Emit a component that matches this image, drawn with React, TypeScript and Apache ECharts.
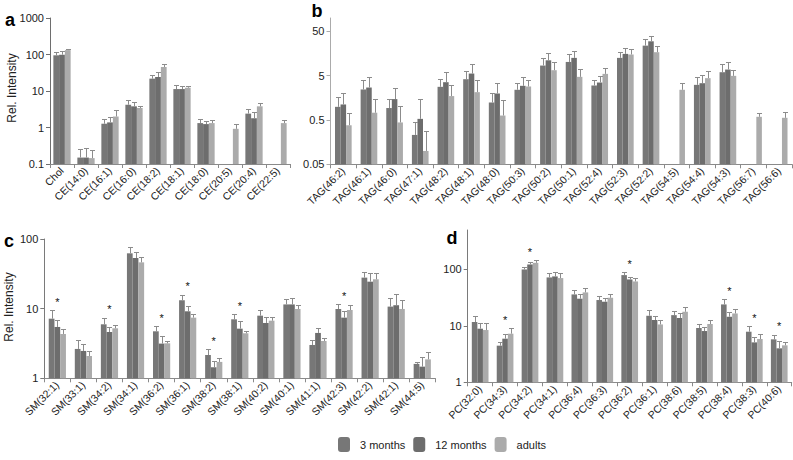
import React, { useEffect, useRef } from "react";
import * as echarts from "echarts";

const seriesNames = ["3 months", "12 months", "adults"];
const barColors = ["#777777", "#6d6d6d", "#ababab"];

// Panel a
const catA = ["Chol", "CE(14:0)", "CE(16:1)", "CE(16:0)", "CE(18:2)", "CE(18:1)", "CE(18:0)", "CE(20:5)", "CE(20:4)", "CE(22:5)"];
const a3m = [95, 0.15, 1.27, 4.2, 21.8, 11.3, 1.32, null, 2.4, null];
const a12m = [99, 0.15, 1.38, 3.8, 24.2, 11.3, 1.24, null, 1.78, null];
const aAd = [132, 0.145, 2.0, 3.42, 45.5, 12.3, 1.32, 0.92, 3.8, 1.32];
const a3mHi = [117, 0.26, 1.74, 5.8, 28.0, 14.9, 1.71, null, 3.2, null];
const a12mHi = [123, 0.275, 1.94, 4.98, 33.2, 13.9, 1.54, null, 2.6, null];
const aAdHi = [141, 0.24, 3.08, 3.9, 56.1, 13.9, 1.57, 1.27, 4.7, 1.57];

// Panel b
const catB = ["TAG(46:2)", "TAG(46:1)", "TAG(46:0)", "TAG(47:1)", "TAG(48:2)", "TAG(48:1)", "TAG(48:0)", "TAG(50:3)", "TAG(50:2)", "TAG(50:1)", "TAG(52:4)", "TAG(52:3)", "TAG(52:2)", "TAG(54:5)", "TAG(54:4)", "TAG(54:3)", "TAG(56:7)", "TAG(56:6)"];
const b3m = [0.99, 2.44, 0.93, 0.23, 2.8, 4.16, 1.24, 2.4, 8.45, 10.2, 3.0, 12.6, 23.8, null, 3.1, 5.98, null, null];
const b12m = [1.12, 2.7, 1.48, 0.53, 3.56, 5.58, 1.98, 2.95, 11.1, 12.6, 3.5, 15.5, 29.8, null, 3.38, 6.87, null, null];
const bAd = [0.38, 0.73, 0.44, 0.1, 1.73, 2.12, 0.63, 2.85, 6.64, 4.7, 5.49, 15.0, 16.9, 2.4, 4.39, 4.95, 0.59, 0.56];
const b3mHi = [1.61, 4.09, 1.5, 0.46, 4.31, 6.5, 1.98, 3.33, 12.2, 15.2, 4.09, 17.2, 33.7, null, 4.62, 9.06, null, null];
const b12mHi = [1.98, 4.78, 2.61, 1.45, 6.09, 9.06, 3.33, 4.7, 16.6, 18.1, 5.03, 21.5, 40, null, 5.12, 10.05, null, null];
const bAdHi = [0.73, 1.45, 1.01, 0.28, 3.1, 4.09, 1.38, 3.95, 10.2, 7.24, 7.62, 20.4, 23.0, 3.33, 6.3, 6.87, 0.73, 0.74];

// Panel c
const catC = ["SM(32:1)", "SM(33:1)", "SM(34:2)", "SM(34:1)", "SM(36:2)", "SM(36:1)", "SM(38:2)", "SM(38:1)", "SM(40:2)", "SM(40:1)", "SM(41:1)", "SM(42:3)", "SM(42:2)", "SM(42:1)", "SM(44:5)"];
const c3m = [7.18, 2.64, 5.96, 62.3, 4.73, 13.2, 2.16, 7.03, 7.93, 11.5, 3.01, 9.89, 27.9, 10.7, 1.61];
const c12m = [5.46, 2.47, 4.62, 53.4, 3.15, 9.16, 1.44, 5.16, 6.23, 11.5, 4.48, 7.43, 24.4, 11.2, 1.47];
const cAd = [4.33, 2.09, 5.22, 46.2, 3.18, 7.43, 1.72, 4.43, 6.72, 9.89, 3.43, 9.57, 26.4, 9.9, 1.87];
const c3mHi = [9.46, 3.51, 7.26, 76.8, 5.64, 15.7, 2.64, 8.29, 9.46, 13.6, 3.55, 11.5, 33.2, 14.1, 1.72];
const c12mHi = [6.88, 3.08, 5.52, 65.1, 4.01, 10.9, 1.75, 6.58, 7.51, 14.2, 5.22, 9.26, 32.2, 16.0, 2.05];
const cAdHi = [5.11, 2.44, 5.76, 54.6, 3.43, 8.29, 1.96, 4.78, 7.51, 11.3, 3.75, 11.3, 32.2, 13.3, 2.36];
const cStars = [13.8, null, 10.8, null, 8.1, 23.1, 3.79, 12.2, null, null, null, 17.0, null, null, null];

// Panel d
const catD = ["PC(32:0)", "PC(34:3)", "PC(34:2)", "PC(34:1)", "PC(36:4)", "PC(36:3)", "PC(36:2)", "PC(36:1)", "PC(38:6)", "PC(38:5)", "PC(38:4)", "PC(38:3)", "PC(40:6)"];
const d3m = [11.7, 4.46, 100, 72.2, 36.1, 28.7, 79.4, 15.1, 15.5, 9.16, 24.0, 7.88, 5.77];
const d12m = [8.91, 5.93, 122.5, 75.2, 30.3, 26.8, 66.5, 12.7, 13.8, 8.1, 14.5, 5.1, 4.0];
const dAd = [8.44, 7.27, 131, 70.3, 39.2, 31.5, 61.3, 10.6, 17.8, 10.8, 16.6, 5.85, 4.52];
const d3mHi = [14.9, 5.24, 111.5, 86.1, 42.5, 33.3, 88.5, 18.8, 18.6, 10.9, 29.5, 9.93, 6.98];
const d12mHi = [11.1, 7.17, 137, 88.5, 36.1, 30.7, 72.2, 15.1, 16.6, 9.41, 17.3, 6.26, 5.32];
const dAdHi = [11.4, 9.16, 146, 85.0, 46.1, 36.1, 69.3, 12.5, 21.5, 12.7, 19.6, 7.07, 5.1];
const dStars = [null, 14.1, 229, null, null, null, 140, null, null, null, 46.7, 15.8, 11.2];

const FONT = "'Liberation Sans', Arial, Helvetica, sans-serif";

type Panel = {
  cats: string[];
  means: (number | null)[][];
  his: (number | null)[][];
  stars: (number | null)[] | null;
  minV: number;
  maxV: number;
  tickVals: number[];
  grid: { left: number; top: number; width: number; height: number };
  gap: number;
  yLineColor: string;
};

const panels: Panel[] = [
  { cats: catA, means: [a3m, a12m, aAd], his: [a3mHi, a12mHi, aAdHi], stars: null, minV: 0.1, maxV: 1000, tickVals: [0.1, 1, 10, 100, 1000], grid: { left: 50, top: 18, width: 240, height: 146 }, gap: 0.28, yLineColor: "#6e6e6e" },
  { cats: catB, means: [b3m, b12m, bAd], his: [b3mHi, b12mHi, bAdHi], stars: null, minV: 0.05, maxV: 100, tickVals: [0.05, 0.5, 5, 50], grid: { left: 330.5, top: 18, width: 461.5, height: 146.3 }, gap: 0.35, yLineColor: "#ababab" },
  { cats: catC, means: [c3m, c12m, cAd], his: [c3mHi, c12mHi, cAdHi], stars: cStars, minV: 1, maxV: 100, tickVals: [1, 10, 100], grid: { left: 44.3, top: 239, width: 391, height: 139.3 }, gap: 0.34, yLineColor: "#7a7a7a" },
  { cats: catD, means: [d3m, d12m, dAd], his: [d3mHi, d12mHi, dAdHi], stars: dStars, minV: 1, maxV: 500, tickVals: [1, 10, 100], grid: { left: 467.7, top: 230, width: 324, height: 152.3 }, gap: 0.33, yLineColor: "#7a7a7a" },
];

function buildOption() {
  const grids: any[] = [];
  const xAxes: any[] = [];
  const yAxes: any[] = [];
  const series: any[] = [];

  panels.forEach((p, pi) => {
    const lmin = Math.log10(p.minV);
    const L = (v: number | null) => (v == null ? null : Math.log10(v) - lmin);
    grids.push({ ...p.grid, containLabel: false });
    xAxes.push({
      type: "category",
      gridIndex: pi,
      data: p.cats,
      axisLine: { show: true, lineStyle: { color: "#8a8a8a", width: 1 } },
      axisTick: { show: true, length: 4, lineStyle: { color: "#8a8a8a" } },
      axisLabel: { interval: 0, rotate: 45, fontSize: 10.5, color: "#222", margin: 5, fontFamily: FONT },
      splitLine: { show: false },
    });
    const tickPos = p.tickVals.map((v) => Math.log10(v) - lmin);
    yAxes.push({
      type: "value",
      gridIndex: pi,
      min: 0,
      max: Math.log10(p.maxV) - lmin,
      axisLine: { show: true, lineStyle: { color: p.yLineColor, width: 1 } },
      axisTick: { show: true, length: 4, customValues: tickPos, lineStyle: { color: p.yLineColor } },
      axisLabel: {
        customValues: tickPos,
        fontSize: 11,
        color: "#222",
        margin: 6,
        fontFamily: FONT,
        formatter: (v: number) => String(parseFloat(Math.pow(10, v + lmin).toPrecision(3))),
      },
      splitLine: { show: false },
    });

    p.means.forEach((arr, si) => {
      series.push({
        type: "bar",
        name: seriesNames[si],
        xAxisIndex: pi,
        yAxisIndex: pi,
        data: arr.map(L),
        itemStyle: { color: barColors[si] },
        barGap: "0%",
        barCategoryGap: `${Math.round(p.gap * 100)}%`,
        z: 2,
      });
    });

    const errData: any[] = [];
    p.means.forEach((arr, si) => {
      arr.forEach((v, i) => {
        const hi = p.his[si][i];
        if (v != null && hi != null) errData.push([i, si, L(v), L(hi)]);
      });
    });
    const gap = p.gap;
    series.push({
      type: "custom",
      name: "err" + pi,
      xAxisIndex: pi,
      yAxisIndex: pi,
      z: 3,
      silent: true,
      encode: { x: 0, y: [2, 3] },
      data: errData,
      renderItem: (params: any, api: any) => {
        const i = api.value(0);
        const s = api.value(1);
        const band = api.size([1, 0])[0];
        const bw = (band * (1 - gap)) / 3;
        const base = api.coord([i, api.value(2)]);
        const top = api.coord([i, api.value(3)]);
        const x = Math.round(base[0] + (s - 1) * bw) + 0.5;
        const yt = Math.round(top[1]) + 0.5;
        return {
          type: "group",
          children: [
            { type: "line", shape: { x1: x, y1: base[1], x2: x, y2: yt }, style: { stroke: "#8c8c8c", lineWidth: 1 } },
            { type: "line", shape: { x1: x - 2.5, y1: yt, x2: x + 2.5, y2: yt }, style: { stroke: "#8c8c8c", lineWidth: 1 } },
          ],
        };
      },
    });

    if (p.stars) {
      const starData: any[] = [];
      p.stars.forEach((v, i) => {
        if (v != null) starData.push([i, L(v)]);
      });
      series.push({
        type: "custom",
        name: "stars" + pi,
        xAxisIndex: pi,
        yAxisIndex: pi,
        z: 4,
        silent: true,
        encode: { x: 0, y: 1 },
        data: starData,
        renderItem: (params: any, api: any) => {
          const c = api.coord([api.value(0), api.value(1)]);
          return {
            type: "text",
            x: c[0],
            y: c[1] + 3,
            style: { text: "*", fontSize: 11, fontFamily: FONT, fill: "#111", align: "center", verticalAlign: "middle" },
          };
        },
      });
    }
  });

  const graphic = [
    { type: "text", x: 10, y: 20, style: { text: "a", font: `bold 18px ${FONT}`, fill: "#000", align: "center", verticalAlign: "middle" } },
    { type: "text", x: 317, y: 11, style: { text: "b", font: `bold 18px ${FONT}`, fill: "#000", align: "center", verticalAlign: "middle" } },
    { type: "text", x: 9, y: 241, style: { text: "c", font: `bold 18px ${FONT}`, fill: "#000", align: "center", verticalAlign: "middle" } },
    { type: "text", x: 452, y: 238, style: { text: "d", font: `bold 18px ${FONT}`, fill: "#000", align: "center", verticalAlign: "middle" } },
    { type: "text", x: 12, y: 88, rotation: Math.PI / 2, style: { text: "Rel. Intensity", font: `12px ${FONT}`, fill: "#222", align: "center", verticalAlign: "middle" } },
    { type: "text", x: 9, y: 307, rotation: Math.PI / 2, style: { text: "Rel. Intensity", font: `12px ${FONT}`, fill: "#222", align: "center", verticalAlign: "middle" } },
  ];

  return {
    animation: false,
    backgroundColor: "#ffffff",
    grid: grids,
    xAxis: xAxes,
    yAxis: yAxes,
    series,
    graphic,
    legend: {
      data: seriesNames,
      left: 333,
      top: 432,
      itemWidth: 12,
      itemHeight: 15,
      itemGap: 8,
      icon: "roundRect",
      selectedMode: false,
      textStyle: { fontSize: 11, color: "#222", fontFamily: FONT, padding: [0, 0, 0, 5] },
    },
  };
}

export default function App() {
  const ref = useRef<HTMLDivElement>(null);
  useEffect(() => {
    if (!ref.current) return;
    const chart = echarts.init(ref.current, null, { renderer: "svg" });
    chart.setOption(buildOption() as any);
    return () => chart.dispose();
  }, []);
  return <div ref={ref} style={{ position: "absolute", left: 0, top: 0, width: 793, height: 460, background: "#fff" }} />;
}
